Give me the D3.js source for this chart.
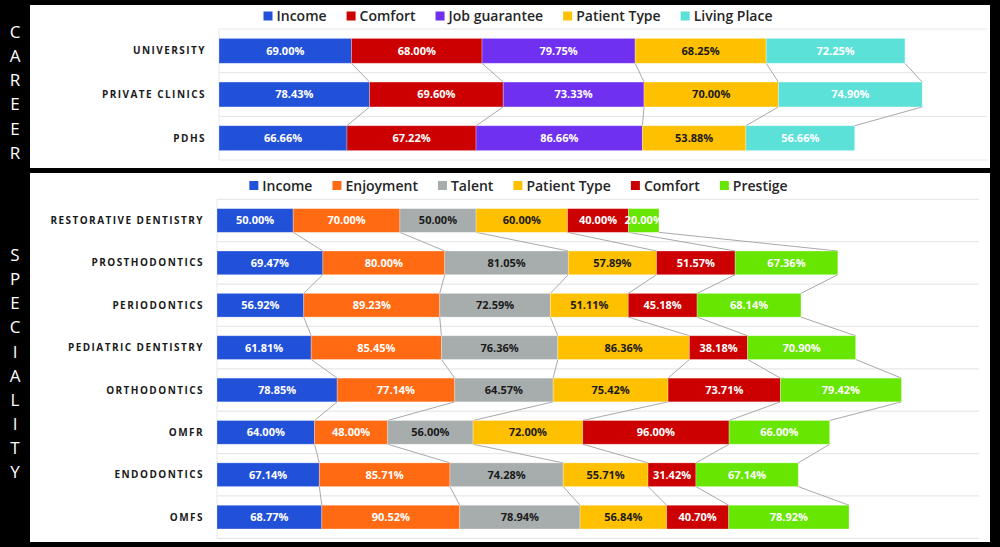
<!DOCTYPE html>
<html><head><meta charset="utf-8">
<script src="https://cdn.jsdelivr.net/npm/d3@7"></script>
<style>html,body{margin:0;padding:0;background:#000;}svg{display:block;}</style>
</head><body>
<svg id="c" width="1000" height="547"></svg>
<script>
// ---------- DATA ----------
const careerCategories = ["UNIVERSITY", "PRIVATE CLINICS", "PDHS"];
const careerSeries = ["Income", "Comfort", "Job guarantee", "Patient Type", "Living Place"];
const careerIncome = [69.00, 78.43, 66.66];
const careerComfort = [68.00, 69.60, 67.22];
const careerJob = [79.75, 73.33, 86.66];
const careerPatient = [68.25, 70.00, 53.88];
const careerLiving = [72.25, 74.90, 56.66];

const specCategories = ["RESTORATIVE DENTISTRY", "PROSTHODONTICS", "PERIODONTICS", "PEDIATRIC DENTISTRY",
  "ORTHODONTICS", "OMFR", "ENDODONTICS", "OMFS"];
const specSeries = ["Income", "Enjoyment", "Talent", "Patient Type", "Comfort", "Prestige"];
const specIncome = [50.00, 69.47, 56.92, 61.81, 78.85, 64.00, 67.14, 68.77];
const specEnjoyment = [70.00, 80.00, 89.23, 85.45, 77.14, 48.00, 85.71, 90.52];
const specTalent = [50.00, 81.05, 72.59, 76.36, 64.57, 56.00, 74.28, 78.94];
const specPatient = [60.00, 57.89, 51.11, 86.36, 75.42, 72.00, 55.71, 56.84];
const specComfort = [40.00, 51.57, 45.18, 38.18, 73.71, 96.00, 31.42, 40.70];
const specPrestige = [20.00, 67.36, 68.14, 70.90, 79.42, 66.00, 67.14, 78.92];

const sideLabels = ["CAREER", "SPECIALITY"];

// ---------- STYLE ----------
const colors = {
  "Income": "#2251d9", "Comfort": "#cc0000", "Job guarantee": "#7030f0",
  "Patient Type": "#ffc000", "Living Place": "#5ce1d9", "Enjoyment": "#ff6a13",
  "Talent": "#a7adad", "Prestige": "#66e600"
};
const textColors = {
  "Income": "#fff", "Comfort": "#fff", "Job guarantee": "#fff", "Patient Type": "#1a1a1a",
  "Living Place": "#fff", "Enjoyment": "#fff", "Talent": "#1a1a1a", "Prestige": "#fff"
};
const FONT = "'Open Sans', 'DejaVu Sans', sans-serif";

const svg = d3.select("#c");
svg.append("rect").attr("width", 1000).attr("height", 547).attr("fill", "#000");

function drawPanel(cfg) {
  const g = svg.append("g");
  g.append("rect").attr("x", cfg.panel[0]).attr("y", cfg.panel[1])
    .attr("width", cfg.panel[2]).attr("height", cfg.panel[3]).attr("fill", "#fff");

  const rows = cfg.categories.map((c, i) => {
    const o = { cat: c };
    cfg.series.forEach((s, j) => o[s] = cfg.values[j][i]);
    return o;
  });
  const stacked = d3.stack().keys(cfg.series)(rows);

  const x = d3.scaleLinear().domain([0, cfg.max]).range([cfg.plot[0], cfg.plot[1]]);
  const y = d3.scaleBand().domain(cfg.categories).range([cfg.plot[2], cfg.plot[3]]).paddingInner(0).paddingOuter(0);
  const bh = y.bandwidth() * cfg.barFrac;
  const by = c => y(c) + (y.bandwidth() - bh) / 2;

  // gridlines (band boundaries)
  const bounds = cfg.categories.map(c => y(c)).concat([cfg.plot[3]]);
  g.selectAll("line.grid").data(bounds).enter().append("line")
    .attr("x1", cfg.plot[0]).attr("x2", cfg.plot[1])
    .attr("y1", d => d).attr("y2", d => d)
    .attr("stroke", "#e6e9e9").attr("stroke-width", 1.2);
  g.append("line").attr("x1", cfg.plot[0]).attr("x2", cfg.plot[0])
    .attr("y1", cfg.plot[2]).attr("y2", cfg.plot[3]).attr("stroke", "#e6e9e9").attr("stroke-width", 1);

  // series lines
  stacked.forEach(layer => {
    for (let i = 0; i < layer.length - 1; i++) {
      const c0 = cfg.categories[i], c1 = cfg.categories[i + 1];
      g.append("line")
        .attr("x1", x(layer[i][1])).attr("y1", by(c0) + bh)
        .attr("x2", x(layer[i + 1][1])).attr("y2", by(c1))
        .attr("stroke", "#a9a9a9").attr("stroke-width", 1);
    }
  });

  // bars
  stacked.forEach(layer => {
    const key = layer.key;
    const lg = g.append("g");
    lg.selectAll("rect").data(layer).enter().append("rect")
      .attr("x", d => x(d[0])).attr("width", d => x(d[1]) - x(d[0]))
      .attr("y", d => by(d.data.cat)).attr("height", bh)
      .attr("fill", colors[key]).attr("stroke", "rgba(255,255,255,0.35)").attr("stroke-width", 0.8);
    lg.selectAll("text").data(layer).enter().append("text")
      .attr("x", d => (x(d[0]) + x(d[1])) / 2).attr("y", d => by(d.data.cat) + bh / 2)
      .attr("dy", "0.36em").attr("text-anchor", "middle")
      .attr("font-family", FONT).attr("font-weight", 700).attr("font-size", 11)
      .attr("fill", textColors[key])
      .text(d => (d[1] - d[0]).toFixed(2) + "%");
  });

  // category labels
  g.selectAll("text.cat").data(cfg.categories).enter().append("text")
    .attr("x", cfg.labelX).attr("y", d => y(d) + y.bandwidth() / 2)
    .attr("dy", "0.36em").attr("text-anchor", "end")
    .attr("font-family", FONT).attr("font-weight", 700).attr("font-size", 10)
    .attr("letter-spacing", "1.45px").attr("fill", "#1a1a1a")
    .text(d => d);

  // legend
  const leg = g.append("g");
  let cx = 0;
  cfg.series.forEach(s => {
    const it = leg.append("g");
    it.append("rect").attr("x", 0).attr("y", -4.5).attr("width", 9).attr("height", 9).attr("fill", colors[s]);
    const t = it.append("text").attr("x", 13).attr("y", 0).attr("dy", "0.36em")
      .attr("font-family", FONT).attr("font-weight", 600).attr("font-size", 14)
      .attr("fill", "#262626").text(s);
    const w = 13 + t.node().getComputedTextLength();
    it.attr("transform", `translate(${cx},0)`);
    cx += w + 20;
  });
  const total = cx - 20;
  leg.attr("transform", `translate(${cfg.legendCenter - total / 2},${cfg.legendY})`);
}

drawPanel({
  panel: [30, 5, 960, 163],
  plot: [219, 987, 29, 160],
  max: 400,
  barFrac: 0.57,
  labelX: 206,
  categories: careerCategories,
  series: careerSeries,
  values: [careerIncome, careerComfort, careerJob, careerPatient, careerLiving],
  legendCenter: 518, legendY: 16
});

drawPanel({
  panel: [30, 173, 960, 369],
  plot: [217, 979, 199.3, 538.3],
  max: 500,
  barFrac: 0.56,
  labelX: 204,
  categories: specCategories,
  series: specSeries,
  values: [specIncome, specEnjoyment, specTalent, specPatient, specComfort, specPrestige],
  legendCenter: 518.5, legendY: 185.5
});

// side labels
const sidePos = [{ y0: 32, label: sideLabels[0] }, { y0: 255, label: sideLabels[1] }];
sidePos.forEach(p => {
  svg.selectAll(null).data(p.label.split("")).enter().append("text")
    .attr("x", 15).attr("y", (d, i) => p.y0 + i * 24.1)
    .attr("dy", "0.36em").attr("text-anchor", "middle")
    .attr("font-family", FONT).attr("font-weight", 400).attr("font-size", 17)
    .attr("fill", "#fff").text(d => d);
});
</script>
</body></html>
